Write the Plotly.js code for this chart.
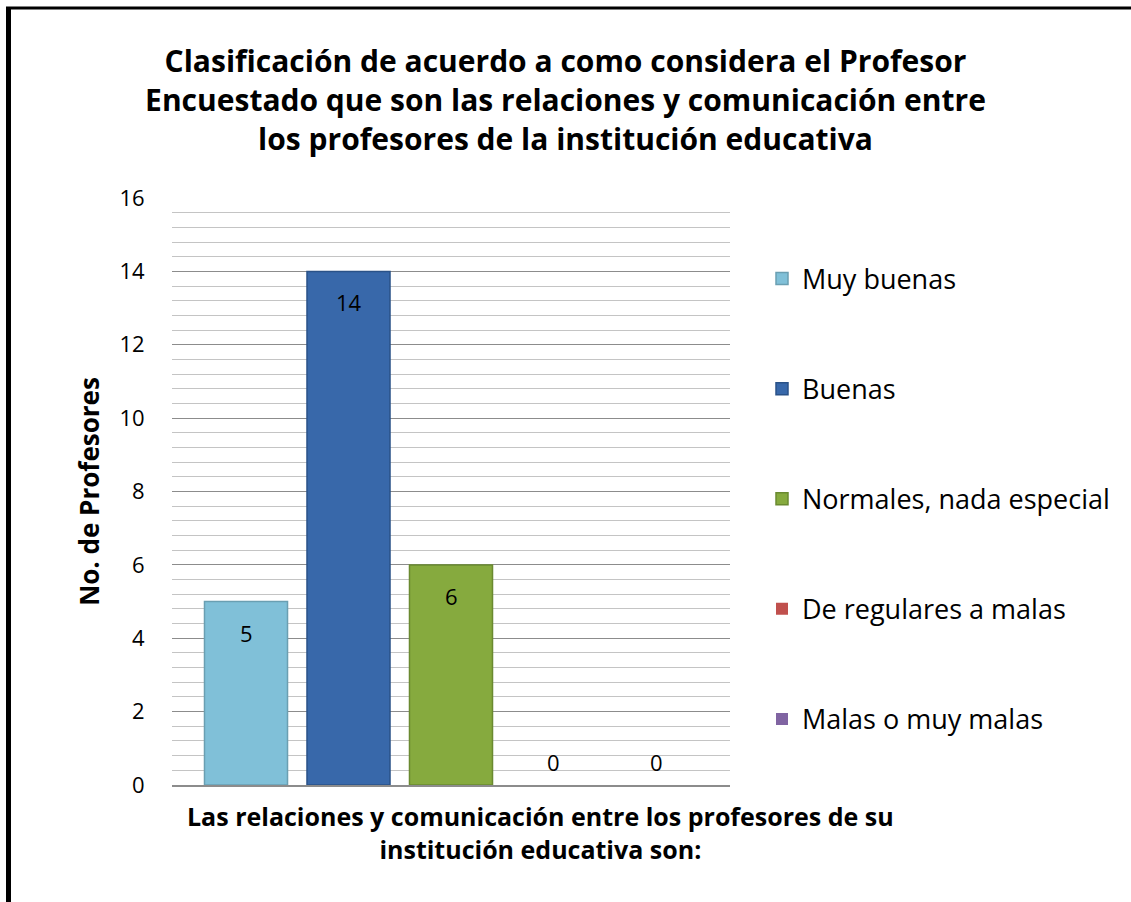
<!DOCTYPE html>
<html>
<head>
<meta charset="utf-8">
<script src="https://cdn.plot.ly/plotly-3.0.1.min.js"></script>
<style>
  html, body { margin: 0; padding: 0; background: #fff; }
  #chart { width: 1131px; height: 902px; }
</style>
</head>
<body>
<div id="chart"></div>
<script>
// ---- data ----
const categories = ["Muy buenas", "Buenas", "Normales, nada especial", "De regulares a malas", "Malas o muy malas"];
const values = [5, 14, 6, 0, 0];
const colors = ["#80c0d8", "#3868aa", "#86aa3e", "#c0504d", "#8064a2"];
const lineColors = ["#6a9fb2", "#2a5288", "#6a8a30", "#9a3b39", "#634d82"];
const titleText = "Clasificación de acuerdo a como considera el Profesor<br>Encuestado que son las relaciones y comunicación entre<br>los profesores de la institución educativa";
const xTitleText = "Las relaciones y comunicación entre los profesores de su<br>institución educativa son:";
const yTitleText = "No. de Profesores";

const W = 1131, H = 902;
const M = { l: 172, r: 401, t: 198, b: 117 };
const pw = W - M.l - M.r, ph = H - M.t - M.b;
const px2x = p => (p - M.l) / pw;
const py2y = p => (H - M.b - p) / ph;

const FONT = "'Open Sans', 'Noto Sans', sans-serif";

const traces = categories.map((c, i) => ({
  type: "bar",
  name: c,
  x: [c],
  y: [values[i]],
  width: 0.81,
  marker: { color: colors[i], line: { color: lineColors[i], width: values[i] > 0 ? 1.5 : 0 } },
  legendgroup: "g" + i,
  hoverinfo: "x+y"
}));

const annotations = categories.map((c, i) => ({
  x: c, y: values[i], xref: "x", yref: "y",
  text: String(values[i]),
  showarrow: false,
  yanchor: "middle",
  yshift: values[i] > 0 ? -31 : 23,
  font: { family: FONT, size: 22, color: "#000" }
}));
annotations.push({
  x: px2x(540), y: py2y(832), xref: "paper", yref: "paper",
  text: xTitleText, showarrow: false, xanchor: "center", yanchor: "middle",
  font: { family: FONT, size: 25, color: "#000", weight: "bold" }
});

const layout = {
  width: W, height: H,
  margin: M,
  paper_bgcolor: "#fff", plot_bgcolor: "#fff",
  title: {
    text: titleText,
    x: 0.5, xanchor: "center", xref: "container",
    y: 1 - 72 / H, yanchor: "middle", yref: "container",
    font: { family: FONT, size: 30, color: "#000", weight: "bold" }
  },
  barmode: "overlay",
  xaxis: {
    type: "category",
    range: [-0.722, 4.722],
    showticklabels: false,
    ticks: "",
    showgrid: false,
    showline: true, linecolor: "#8c8c8c", linewidth: 1.5,
    zeroline: false,
    fixedrange: true
  },
  yaxis: {
    range: [0, 16],
    dtick: 2,
    tick0: 0,
    showgrid: true, gridcolor: "#8c8c8c", gridwidth: 1.2,
    minor: { dtick: 0.4, showgrid: true, gridcolor: "#c4c4c4", gridwidth: 1 },
    ticks: "outside", ticklen: 22, tickcolor: "rgba(0,0,0,0)",
    tickfont: { family: FONT, size: 22, color: "#000" },
    zeroline: false,
    showline: false,
    title: { text: yTitleText, standoff: 12, font: { family: FONT, size: 26, color: "#000", weight: "bold" } },
    fixedrange: true
  },
  showlegend: true,
  legend: {
    x: px2x(762), xanchor: "left",
    y: py2y(254.5), yanchor: "top",
    font: { family: FONT, size: 27, color: "#000" },
    tracegroupgap: 72,
    bgcolor: "rgba(0,0,0,0)"
  },
  annotations: annotations,
  shapes: [
    { type: "line", xref: "paper", yref: "paper", x0: px2x(8.5), x1: px2x(8.5), y0: py2y(7), y1: py2y(H), line: { color: "#000", width: 5 } },
    { type: "line", xref: "paper", yref: "paper", x0: px2x(6), x1: px2x(W), y0: py2y(8), y1: py2y(8), line: { color: "#000", width: 3 } }
  ]
};

Plotly.newPlot("chart", traces, layout, { displayModeBar: false, staticPlot: true });
</script>
</body>
</html>
